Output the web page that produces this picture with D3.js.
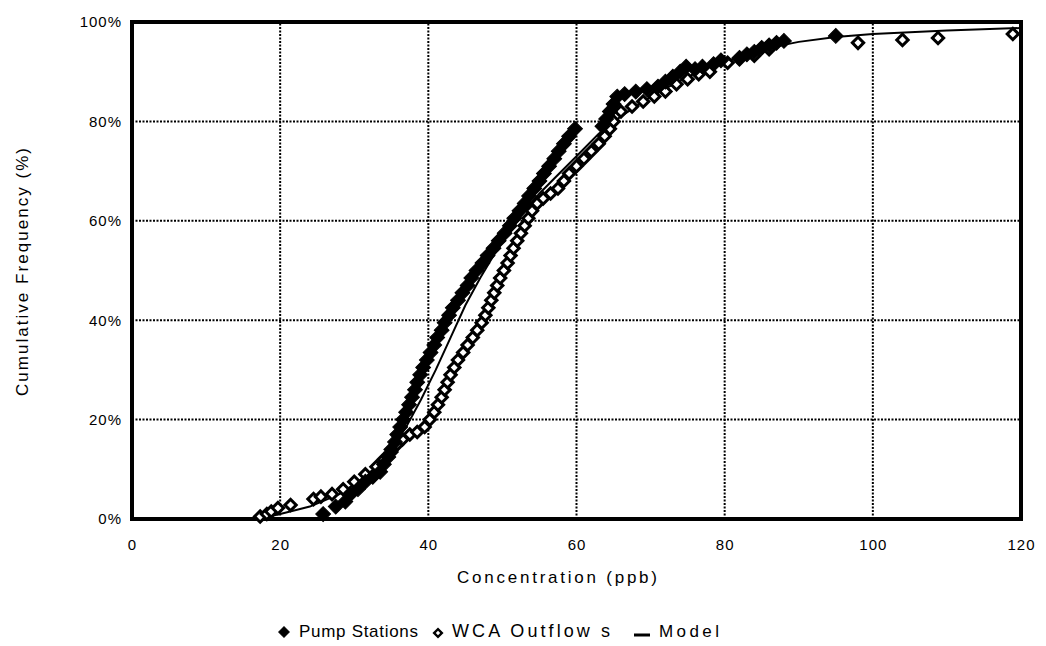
<!DOCTYPE html>
<html>
<head>
<meta charset="utf-8">
<script src="https://cdn.jsdelivr.net/npm/d3@7"></script>
<style>
  body { margin: 0; background: #fff; }
  text { font-family: "Liberation Sans", Arial, sans-serif; fill: #000; }
</style>
</head>
<body>
<svg id="chart"></svg>
<script>
// concentration (ppb) and cumulative frequency (%)
let pumpX = [25.8, 27.5, 28.8, 29.5, 30.5, 31.5, 32.5, 33.5, 34, 34.6, 35, 35.5, 35.8, 36.2, 36.6, 37, 37.4, 37.8,
    38.2, 38.5, 38.9, 39.3, 39.8, 40.3, 40.8, 41.2, 41.8, 42.2, 42.8, 43.3, 44, 44.6, 45.3, 45.8, 46.5, 47.3, 48,
    48.8, 49.5, 50.3, 51, 51.6, 52.3, 53, 53.6, 54.3, 55, 55.6, 56.3, 57, 57.6, 58.3, 59, 59.8, 63.5, 64, 64.5, 65,
    65.5, 66.5, 68, 69.5, 71, 72, 73, 74, 74.8, 76, 77, 78.5, 79.5, 82, 83, 84, 85, 86, 87, 88, 95];
let pumpY = [1, 2.5, 3.5, 5, 6, 7.5, 8.5, 9.5, 11, 12.5, 14, 15.5, 17, 18.5, 20, 21.5, 23, 24.5,
    26, 27.5, 29, 30.5, 32, 33.5, 35, 36.5, 38, 39.5, 41, 42.5, 44, 45.5, 47, 48.5, 50, 51.5, 53,
    54.5, 56, 57.5, 59, 60.5, 62, 63.5, 65, 66.5, 68, 69.5, 71, 72.5, 74, 75.5, 77, 78.5, 79, 80.5, 82, 83.5,
    85, 85.5, 86, 86.5, 87, 88, 89, 90, 91, 90.5, 91, 91.5, 92.3, 92.8, 93.5, 94, 94.8, 95.3, 95.8, 96.2, 97.2];

let wcaX = [17.3, 18.2, 18.8, 19.7, 21.4, 24.5, 25.5, 27, 28.5, 30, 31.5, 33, 34, 35, 35.8, 36.5, 37.5, 38.5, 39.5,
    40.2, 40.8, 41.3, 41.8, 42.2, 42.6, 43, 43.5, 44, 44.7, 45.3, 46, 46.6, 47.2, 47.7, 48.1, 48.5, 48.9, 49.3,
    49.7, 50.2, 50.7, 51.1, 51.5, 52, 52.5, 53, 53.5, 54, 54.7, 55.5, 56.5, 57.5, 58.3, 59, 60, 61, 62, 63, 63.8,
    64.5, 65, 66, 67.5, 69, 70.5, 72, 73.5, 75, 76.5, 78, 80.4, 82, 84, 86, 98, 104, 108.8, 118.9];
let wcaY = [0.5, 1, 1.5, 2.2, 2.8, 4, 4.5, 5, 6, 7.5, 9, 10.5, 12, 13.5, 15, 16, 17, 17.5, 18.5,
    20, 21.5, 23, 24.5, 26, 27.5, 29, 30.5, 32, 33.5, 35, 36.5, 38, 39.5, 41, 42.5, 44, 45.5, 47,
    48.5, 50, 51.5, 53, 54.5, 56, 57.5, 59, 60.5, 62, 63.5, 64.5, 65.5, 66.5, 68, 69.5, 71, 72.5, 74, 75.5, 77,
    78.5, 80, 82, 83, 84, 85, 86, 87.5, 88.5, 89.5, 90, 91.8, 92.5, 93.2, 94.5, 95.8, 96.4, 96.8, 97.6];

let modelX = [17, 20, 24, 28, 31, 33, 35, 37, 39, 41, 43, 45, 47, 49, 51, 53, 55, 57, 60, 63, 66, 70, 75, 80,
    85, 90, 95, 100, 110, 120];
let modelY = [0, 1, 2.5, 5, 8, 10.5, 14, 18.5, 24, 30, 36.5, 43, 48.5, 53.5, 58, 62, 65.5, 68.5, 73, 77.5, 81,
    85, 89, 92, 94.5, 96, 97, 97.6, 98.3, 98.8];

let xTicks = [0, 20, 40, 60, 80, 100, 120];
let yTicks = [0, 20, 40, 60, 80, 100];

let width = 1046, height = 646;
let margin = {left: 132, right: 25, top: 22, bottom: 127};

let svg = d3.select("#chart").attr("width", width).attr("height", height);

let x = d3.scaleLinear().domain([0, 120]).range([margin.left, width - margin.right]);
let y = d3.scaleLinear().domain([0, 100]).range([height - margin.bottom, margin.top]);

// grid
let grid = svg.append("g");
grid.selectAll("line.vg")
    .data(xTicks.filter(d => d > 0 && d < 120))
    .enter().append("line")
    .attr("x1", d => x(d)).attr("x2", d => x(d))
    .attr("y1", y(0)).attr("y2", y(100))
    .style("stroke", "#000").style("stroke-width", 2).style("stroke-dasharray", "2,1.5");
grid.selectAll("line.hg")
    .data(yTicks.filter(d => d > 0 && d < 100))
    .enter().append("line")
    .attr("x1", x(0)).attr("x2", x(120))
    .attr("y1", d => y(d)).attr("y2", d => y(d))
    .style("stroke", "#000").style("stroke-width", 2).style("stroke-dasharray", "2,1.5");

// frame
svg.append("rect")
    .attr("x", x(0)).attr("y", y(100))
    .attr("width", x(120) - x(0)).attr("height", y(0) - y(100))
    .style("fill", "none").style("stroke", "#000").style("stroke-width", 4);

// axes
let xAxis = svg.append("g")
    .attr("transform", "translate(0," + y(0) + ")")
    .call(d3.axisBottom(x).tickValues(xTicks).tickSize(0).tickPadding(20));
let yAxis = svg.append("g")
    .attr("transform", "translate(" + x(0) + ",0)")
    .call(d3.axisLeft(y).tickValues(yTicks).tickSize(0).tickPadding(10).tickFormat(d => d + "%"));
[xAxis, yAxis].forEach(function (a) {
    a.select(".domain").remove();
    a.selectAll("text")
        .style("font-size", "15px")
        .style("letter-spacing", "1px")
        .style("fill", "#000");
});

// model line
let line = d3.line().x((d, i) => x(modelX[i])).y((d, i) => y(modelY[i]));
svg.append("path")
    .datum(modelX)
    .attr("d", line)
    .style("fill", "none").style("stroke", "#000").style("stroke-width", 2);

let diamond = d3.symbol().type(d3.symbolSquare);

// WCA outflows (open)
svg.append("g").selectAll("path")
    .data(wcaX)
    .enter().append("path")
    .attr("d", diamond.size(64))
    .attr("transform", (d, i) => "translate(" + x(d) + "," + y(wcaY[i]) + ") rotate(45)")
    .style("fill", "#fff").style("stroke", "#000").style("stroke-width", 3);

// pump stations (filled)
svg.append("g").selectAll("path")
    .data(pumpX)
    .enter().append("path")
    .attr("d", diamond.size(110))
    .attr("transform", (d, i) => "translate(" + x(d) + "," + y(pumpY[i]) + ") rotate(45)")
    .style("fill", "#000").style("stroke", "#000").style("stroke-width", 1);

// axis titles
svg.append("text")
    .attr("x", 457).attr("y", 583)
    .attr("textLength", 200).attr("lengthAdjust", "spacing")
    .style("font-size", "17px")
    .text("Concentration (ppb)");
svg.append("text")
    .attr("transform", "translate(28,396) rotate(-90)")
    .attr("textLength", 248).attr("lengthAdjust", "spacing")
    .style("font-size", "17px")
    .text("Cumulative Frequency (%)");

// legend
let legend = svg.append("g");
legend.append("path")
    .attr("d", diamond.size(56))
    .attr("transform", "translate(284,632) rotate(45)")
    .style("fill", "#000").style("stroke", "#000");
legend.append("text").attr("x", 299).attr("y", 637)
    .attr("textLength", 119).attr("lengthAdjust", "spacing")
    .style("font-size", "17px").text("Pump Stations");
legend.append("path")
    .attr("d", diamond.size(30))
    .attr("transform", "translate(438,633) rotate(45)")
    .style("fill", "#fff").style("stroke", "#000").style("stroke-width", 2.4);
legend.append("text").attr("x", 452).attr("y", 637)
    .attr("textLength", 158).attr("lengthAdjust", "spacing")
    .style("font-size", "18px").text("WCA Outflow s");
legend.append("line")
    .attr("x1", 634).attr("x2", 650).attr("y1", 635).attr("y2", 635)
    .style("stroke", "#000").style("stroke-width", 3);
legend.append("text").attr("x", 659).attr("y", 637)
    .attr("textLength", 60).attr("lengthAdjust", "spacing")
    .style("font-size", "17px").text("Model");
</script>
</body>
</html>
